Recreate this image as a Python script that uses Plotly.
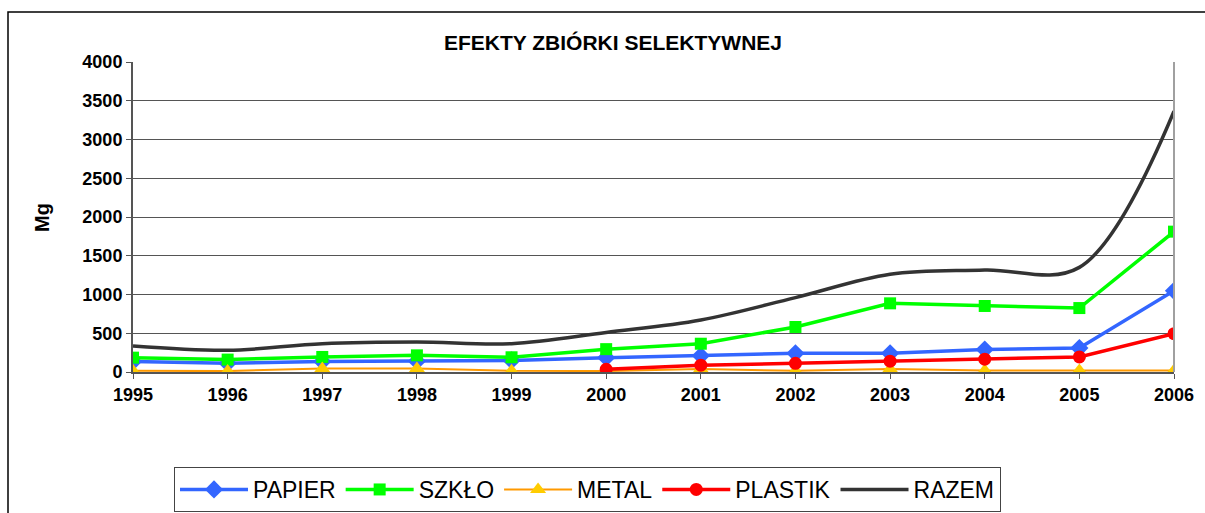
import plotly.graph_objects as go

years = [1995, 1996, 1997, 1998, 1999, 2000, 2001, 2002, 2003, 2004, 2005, 2006]
papier = [134, 112, 134, 140, 150, 185, 210, 241, 241, 290, 310, 1048]
szklo = [185, 160, 194, 215, 190, 295, 365, 581, 886, 852, 825, 1811]
metal = [15, 12, 45, 45, 15, 12, 40, 15, 40, 20, 20, 20]
plastik = [None, None, None, None, None, 35, 88, 112, 140, 165, 195, 495]
razem = [335, 280, 366, 387, 366, 510, 671, 960, 1261, 1316, 1350, 3364]

y_ticks = [0, 500, 1000, 1500, 2000, 2500, 3000, 3500, 4000]
title_text = "EFEKTY ZBIÓRKI SELEKTYWNEJ"
y_title = "Mg"

W, H = 1205, 513
L, R, T, B = 133, 1174, 62, 372

fig = go.Figure()
fig.add_trace(go.Scatter(x=years, y=papier, name="PAPIER", mode="lines+markers",
                         line=dict(color="#3366FF", width=3.5),
                         marker=dict(symbol="diamond", size=14, color="#3366FF")))
fig.add_trace(go.Scatter(x=years, y=szklo, name="SZKŁO", mode="lines+markers",
                         line=dict(color="#00FF00", width=3.5),
                         marker=dict(symbol="square", size=12, color="#00FF00")))
fig.add_trace(go.Scatter(x=years, y=metal, name="METAL", mode="lines+markers",
                         line=dict(color="#FF9900", width=2),
                         marker=dict(symbol="triangle-up", size=14, color="#FFCC00")))
fig.add_trace(go.Scatter(x=years, y=plastik, name="PLASTIK", mode="lines+markers",
                         line=dict(color="#FF0000", width=3.5),
                         marker=dict(symbol="circle", size=13, color="#FF0000")))
fig.add_trace(go.Scatter(x=years, y=razem, name="RAZEM", mode="lines",
                         line=dict(color="#333333", width=3.5, shape="spline", smoothing=1.0)))

pw = R - L
ph = B - T
def px(x):
    return (x - L) / pw
def py(y):
    return (B - y) / ph

fig.add_shape(type="rect", xref="paper", yref="paper",
              x0=px(8), x1=px(1215), y0=py(530), y1=py(12),
              line=dict(color="#000000", width=1.5), fillcolor="rgba(0,0,0,0)", layer="below")
fig.add_shape(type="line", xref="paper", yref="paper",
              x0=1, x1=1, y0=0, y1=1, line=dict(color="#A0A0A0", width=2))

fig.add_annotation(text="<b>" + y_title + "</b>", xref="paper", yref="paper",
                   x=px(42), y=py(218), xanchor="center", yanchor="middle",
                   textangle=-90, showarrow=False, font=dict(size=20, color="#000000"))

fig.update_layout(
    width=W, height=H,
    margin=dict(l=L, r=W - R, t=T, b=H - B, autoexpand=False),
    paper_bgcolor="white", plot_bgcolor="white",
    font=dict(family="Liberation Sans, Arial, sans-serif", color="#000000"),
    title=dict(text="<b>" + title_text + "</b>", x=613 / W, xanchor="center",
               y=1 - 43 / H, yanchor="middle",
               font=dict(size=21, family="Liberation Sans, Arial", color="#000000")),
    showlegend=True,
    legend=dict(orientation="h", x=px(174), xanchor="left", y=py(467), yanchor="top",
                bordercolor="#444444", borderwidth=1, bgcolor="white",
                font=dict(size=23, family="Liberation Sans, Arial"),
                itemwidth=68, tracegroupgap=0),
    xaxis=dict(range=[1995, 2006], tickmode="array", tickvals=years,
               ticktext=["<b>%d</b>" % y for y in years],
               showgrid=False, showline=True, linecolor="#555555", linewidth=2,
               ticks="outside", ticklen=5, tickcolor="#555555", tickwidth=1,
               tickfont=dict(size=18), zeroline=False, fixedrange=True),
    yaxis=dict(range=[0, 4000], tickmode="array", tickvals=y_ticks,
               ticktext=["<b>%d</b>" % v for v in y_ticks],
               showgrid=True, gridcolor="#555555", gridwidth=1,
               showline=True, linecolor="#555555", linewidth=2,
               ticks="outside", ticklen=5, tickcolor="#555555",
               tickfont=dict(size=18), zeroline=False),
)

fig.write_html("out.html", config={"displayModeBar": False},
               post_script="document.body.style.margin='0';document.body.style.overflow='hidden';")
